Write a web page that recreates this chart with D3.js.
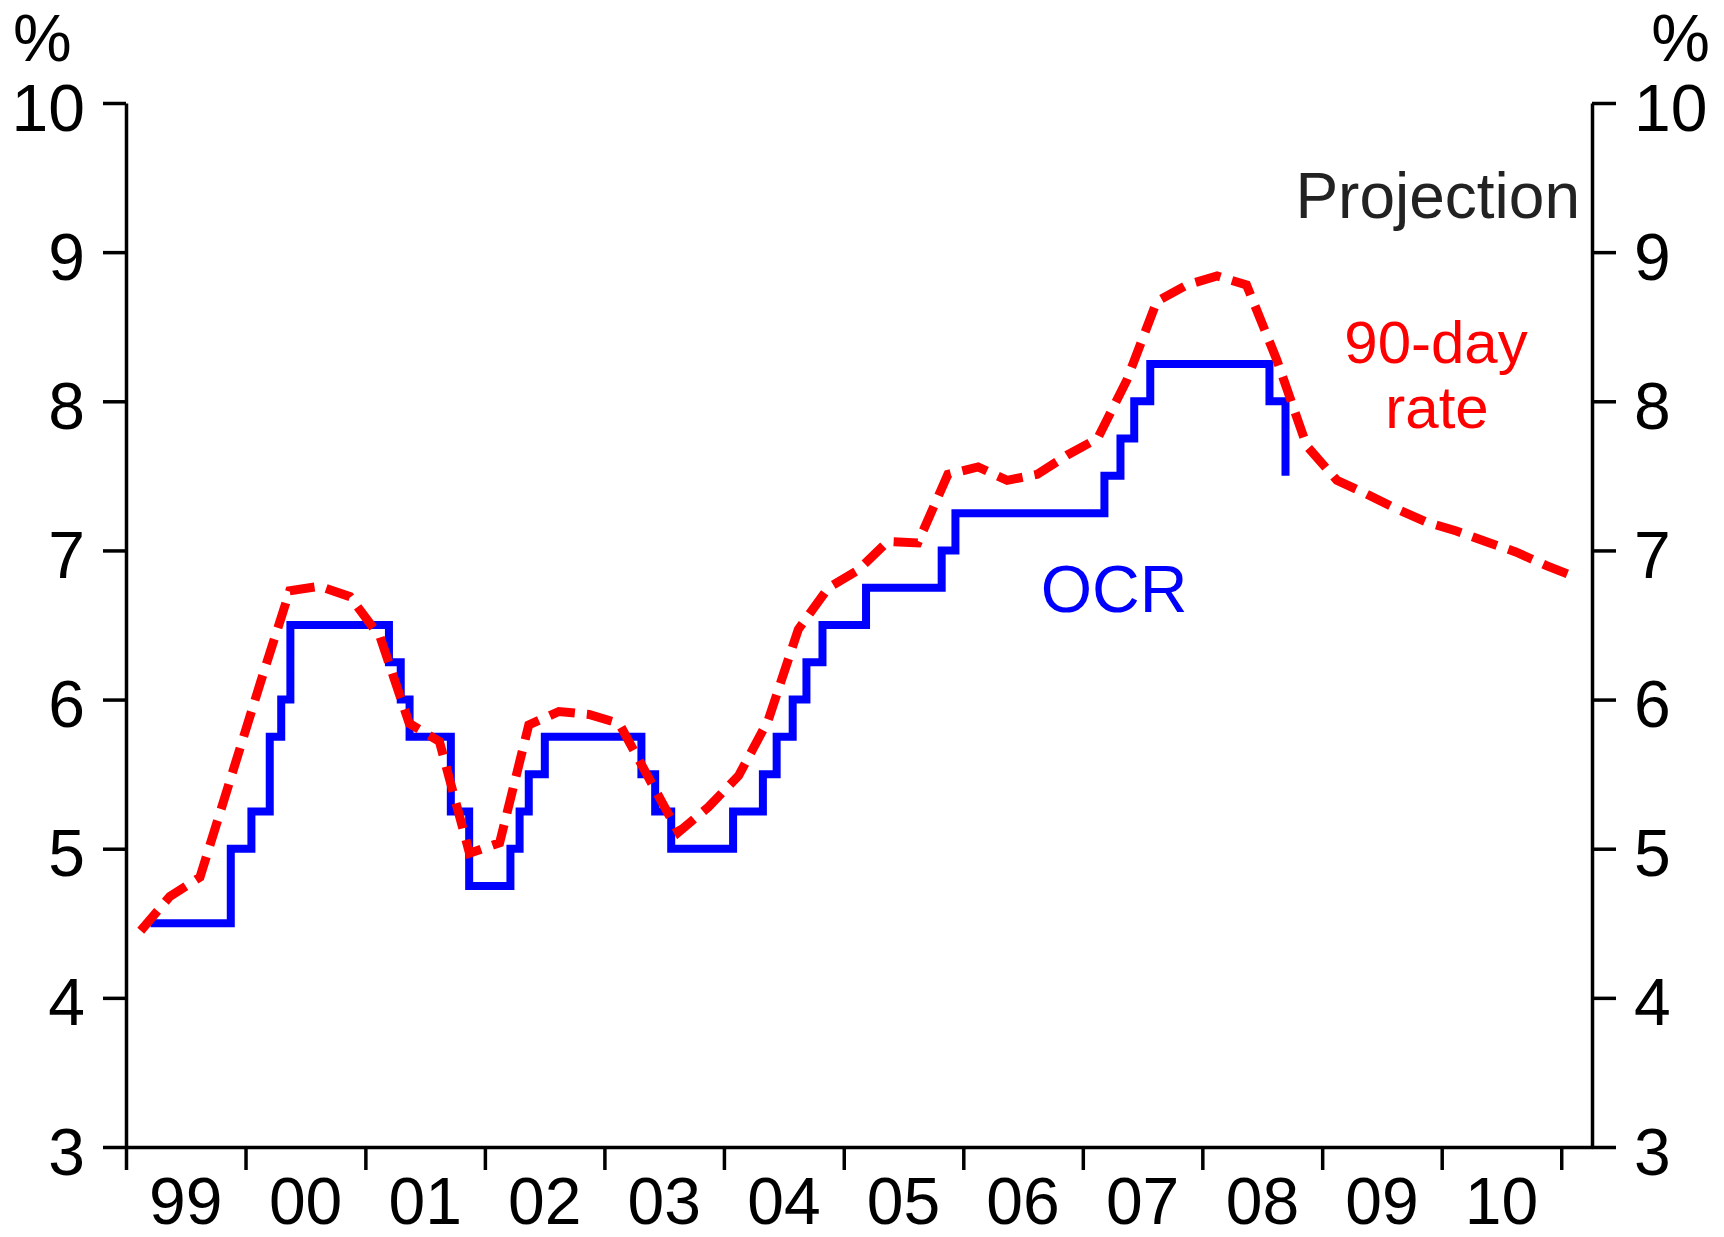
<!DOCTYPE html>
<html>
<head>
<meta charset="utf-8">
<script src="https://cdn.jsdelivr.net/npm/d3@7"></script>
<style>
  body { margin: 0; background: #fff; }
  svg { display: block; }
  text { font-family: "Liberation Sans", Arial, Helvetica, sans-serif; }
</style>
</head>
<body>
<div id="chart"></div>
<script>
// OCR decisions: date the new rate took effect, and the rate (%)
const ocrDates = [
  '1999-03-17', '1999-11-17', '2000-01-19', '2000-03-15', '2000-04-19', '2000-05-17',
  '2001-03-14', '2001-04-19', '2001-05-16', '2001-09-19', '2001-11-14',
  '2002-03-20', '2002-04-17', '2002-05-15', '2002-07-03',
  '2003-04-24', '2003-06-05', '2003-07-24',
  '2004-01-29', '2004-04-29', '2004-06-10', '2004-07-29', '2004-09-09', '2004-10-28',
  '2005-03-10', '2005-10-27', '2005-12-08',
  '2007-03-08', '2007-04-26', '2007-06-07', '2007-07-26',
  '2008-07-24', '2008-09-11',
];
const ocrRates = [
  4.5, 5.0, 5.25, 5.75, 6.0, 6.5,
  6.25, 6.0, 5.75, 5.25, 4.75,
  5.0, 5.25, 5.5, 5.75,
  5.5, 5.25, 5.0,
  5.25, 5.5, 5.75, 6.0, 6.25, 6.5,
  6.75, 7.0, 7.25,
  7.5, 7.75, 8.0, 8.25,
  8.0, 7.5,
];

// 90-day rate, quarterly (history plus projection), starting 1999 Q1
const rateStartYear = 1999;
const rate90 = [
  4.45, 4.68, 4.81, 5.46,
  6.11, 6.73, 6.76, 6.69,
  6.42, 5.84, 5.72, 4.97,
  5.04, 5.83, 5.92, 5.90,
  5.84, 5.48, 5.11, 5.28,
  5.49, 5.86, 6.47, 6.75,
  6.87, 7.06, 7.05, 7.51,
  7.56, 7.47, 7.51, 7.64,
  7.75, 8.14, 8.67, 8.78,
  8.84, 8.78, 8.28, 7.70,
  7.47, 7.38, 7.28, 7.19,
  7.13, 7.06, 6.99, 6.90,
  6.82,
];

const yTicks = [3, 4, 5, 6, 7, 8, 9, 10];
const yearTicks = [1999, 2000, 2001, 2002, 2003, 2004, 2005, 2006, 2007, 2008, 2009, 2010, 2011];
const yearLabels = ['99', '00', '01', '02', '03', '04', '05', '06', '07', '08', '09', '10'];

const width = 1724, height = 1237;
const plot = { left: 126, right: 1592, top: 103, bottom: 1147 };
const fontSize = 66;

const parse = d3.timeParse('%Y-%m-%d');

const ocr = ocrDates.map((d, i) => ({ date: parse(d), value: ocrRates[i] }));
// quarterly points sit mid-quarter
const rate = rate90.map((v, i) => ({
  date: new Date(rateStartYear + Math.floor(i / 4), (i % 4) * 3 + 1, 15),
  value: v,
}));

const svg = d3.select('#chart').append('svg')
  .attr('width', width)
  .attr('height', height);

const x = d3.scaleTime()
  .domain([new Date(1999, 0, 1), new Date(2011, 3, 5)])
  .range([plot.left, plot.right]);

const y = d3.scaleLinear()
  .domain([3, 10])
  .range([plot.bottom, plot.top]);

function styleAxis(g) {
  g.selectAll('path, line').attr('stroke', '#000').attr('stroke-width', 3.5);
  g.selectAll('text').attr('font-size', fontSize).attr('fill', '#000')
    .style('font-family', '"Liberation Sans", Arial, sans-serif');
}

// x axis: ticks at year boundaries, labels centred in each year
svg.append('g')
  .attr('transform', `translate(0,${plot.bottom})`)
  .call(d3.axisBottom(x)
    .tickValues(yearTicks.map(yr => new Date(yr, 0, 1)))
    .tickSize(23).tickSizeOuter(0).tickFormat(''))
  .call(styleAxis);

svg.append('g')
  .attr('transform', `translate(0,${plot.bottom})`)
  .call(d3.axisBottom(x)
    .tickValues(yearLabels.map((_, i) => new Date(yearTicks[i], 6, 1)))
    .tickSize(0).tickPadding(30)
    .tickFormat((d, i) => yearLabels[i]))
  .call(styleAxis)
  .call(g => g.select('.domain').remove());

// left and right y axes
svg.append('g')
  .attr('transform', `translate(${plot.left},0)`)
  .call(d3.axisLeft(y).tickValues(yTicks).tickFormat(d3.format('d'))
    .tickSize(23).tickSizeOuter(0).tickPadding(18))
  .call(styleAxis)
  .call(g => g.selectAll('text').attr('dy', '0.41em'));

svg.append('g')
  .attr('transform', `translate(${plot.right},0)`)
  .call(d3.axisRight(y).tickValues(yTicks).tickFormat(d3.format('d'))
    .tickSize(24).tickSizeOuter(0).tickPadding(18))
  .call(styleAxis)
  .call(g => g.selectAll('text').attr('dy', '0.41em'));

// OCR step line
svg.append('path')
  .datum(ocr)
  .attr('fill', 'none')
  .attr('stroke', '#0000ff')
  .attr('stroke-width', 8)
  .attr('stroke-linejoin', 'miter')
  .attr('d', d3.line().curve(d3.curveStepAfter).x(d => x(d.date)).y(d => y(d.value)));

// 90-day rate dashed line
svg.append('path')
  .datum(rate)
  .attr('fill', 'none')
  .attr('stroke', '#ff0000')
  .attr('stroke-width', 9)
  .attr('stroke-dasharray', '26,12')
  .attr('d', d3.line().x(d => x(d.date)).y(d => y(d.value)));

// unit labels and annotations
const label = (txt, px, py, anchor, size, color) =>
  svg.append('text')
    .attr('x', px).attr('y', py)
    .attr('text-anchor', anchor)
    .attr('font-size', size)
    .attr('fill', color)
    .text(txt);

label('%', 13, 61, 'start', fontSize, '#000');
label('%', 1710, 61, 'end', fontSize, '#000');
label('Projection', 1580, 218, 'end', 64, '#222');
label('90-day', 1436, 363, 'middle', 60, '#ff0000');
label('rate', 1437, 428, 'middle', 60, '#ff0000');
label('OCR', 1114, 612, 'middle', fontSize, '#0000ff');
</script>
</body>
</html>
